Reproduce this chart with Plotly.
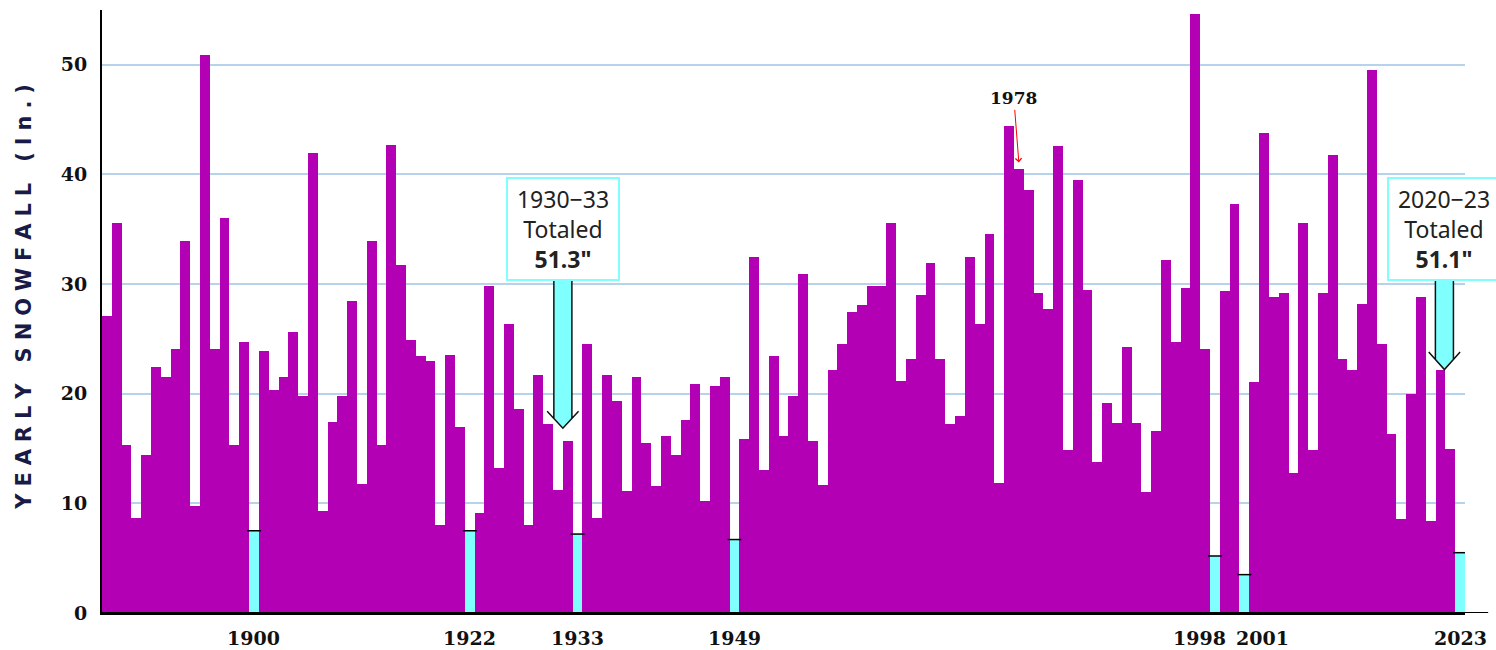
import plotly.graph_objects as go

# ---------------- data ----------------
YEARS = list(range(1885, 2024))
SNOWFALL = [
    27.1, 35.6, 15.3, 8.7, 14.4, 22.4, 21.5, 24.1, 33.9, 9.8,          # 1885-1894
    50.9, 24.1, 36.0, 15.3, 24.7, 7.5, 23.9, 20.3, 21.5, 25.6,         # 1895-1904
    19.8, 42.0, 9.3, 17.4, 19.8, 28.5, 11.8, 33.9, 15.3, 42.7,         # 1905-1914
    31.7, 24.9, 23.4, 23.0, 8.0, 23.5, 17.0, 7.5, 9.1, 29.8,           # 1915-1924
    13.2, 26.4, 18.6, 8.0, 21.7, 17.2, 11.2, 15.7, 7.2, 24.5,          # 1925-1934
    8.7, 21.7, 19.3, 11.1, 21.5, 15.5, 11.6, 16.1, 14.4, 17.6,         # 1935-1944
    20.9, 10.2, 20.7, 21.5, 6.7, 15.9, 32.5, 13.0, 23.4, 16.1,         # 1945-1954
    19.8, 30.9, 15.7, 11.7, 22.2, 24.5, 27.5, 28.1, 29.8, 29.8,        # 1955-1964
    35.6, 21.2, 23.2, 29.0, 31.9, 23.2, 17.2, 18.0, 32.5, 26.4,        # 1965-1974
    34.6, 11.9, 44.4, 40.5, 38.6, 29.2, 27.7, 42.6, 14.9, 39.5,        # 1975-1984
    29.5, 13.8, 19.2, 17.3, 24.3, 17.3, 11.0, 16.6, 32.2, 24.7,        # 1985-1994
    29.6, 54.6, 24.1, 5.2, 29.4, 37.3, 3.5, 21.1, 43.8, 28.8,          # 1995-2004
    29.2, 12.8, 35.6, 14.9, 29.2, 41.8, 23.2, 22.2, 28.2, 49.5,        # 2005-2014
    24.5, 16.3, 8.6, 20.0, 28.8, 8.4, 22.2, 15.0, 5.5,                 # 2015-2023
]
LOW_YEARS = [1900, 1922, 1933, 1949, 1998, 2001, 2023]
X_TICK_YEARS = LOW_YEARS
X_TICK_NUDGE = {1998: -15, 2001: 18}   # label offsets (px) so adjacent labels don't collide
Y_TICKS = [0, 10, 20, 30, 40, 50]
Y_TITLE = "YEARLY SNOWFALL (In.)"
HIGHLIGHT_YEAR = 1978
PERIODS = [(1930, 1933), (2020, 2023)]

# ---------------- styles ----------------
MAGENTA = "#B400B4"
CYAN = "#80FFFF"
GRID = "#B7D3EC"
TICK_FONT = dict(family="DejaVu Serif", size=19, color="#111111", weight="bold")
BOX_FONT = dict(family="Noto Sans", size=23, color="#222222")

value_of = dict(zip(YEARS, SNOWFALL))
colors = [CYAN if y in LOW_YEARS else MAGENTA for y in YEARS]

fig = go.Figure()
fig.add_trace(go.Bar(
    x=YEARS, y=SNOWFALL, width=1.0,
    marker=dict(color=colors, line=dict(width=0)),
    hoverinfo="x+y", showlegend=False,
))
# black caps on top of the low-year (cyan) bars
fig.add_trace(go.Scatter(
    x=LOW_YEARS, y=[value_of[y] for y in LOW_YEARS], mode="markers",
    marker=dict(symbol="line-ew", size=10, line=dict(color="black", width=1.5)),
    hoverinfo="skip", showlegend=False,
))

# ---------------- period annotations with block arrows ----------------
ARROWS = [
    # center year, top value, head value, tip value
    dict(cx=1931.5, top=30.3, head=18.4, tip=16.85),
    dict(cx=2021.4, top=30.3, head=23.8, tip=22.2),
]
SHAFT_HW = 0.92
HEAD_HW = 1.6
for (y0, y1), a in zip(PERIODS, ARROWS):
    total = round(sum(value_of[y] for y in range(y0, y1 + 1)), 1)
    label = f"{y0}\u2212{str(y1)[-2:]}<br>Totaled<br><b>{total}\"</b>"
    cx, top, head, tip = a["cx"], a["top"], a["head"], a["tip"]
    yi = tip + (head - tip) * (SHAFT_HW / HEAD_HW)
    fill_path = (f"M {cx-SHAFT_HW},{top} L {cx-SHAFT_HW},{yi} L {cx},{tip} "
                 f"L {cx+SHAFT_HW},{yi} L {cx+SHAFT_HW},{top} Z")
    fig.add_shape(type="path", path=fill_path, xref="x", yref="y",
                  fillcolor=CYAN, line=dict(width=0), layer="above")
    line_path = (f"M {cx-SHAFT_HW},{top} L {cx-SHAFT_HW},{yi} "
                 f"M {cx+SHAFT_HW},{top} L {cx+SHAFT_HW},{yi} "
                 f"M {cx-HEAD_HW},{head} L {cx},{tip} L {cx+HEAD_HW},{head}")
    fig.add_shape(type="path", path=line_path, xref="x", yref="y",
                  fillcolor="rgba(0,0,0,0)", line=dict(color="#111111", width=1.5),
                  layer="above")
    fig.add_annotation(
        x=cx, y=top, xref="x", yref="y", xanchor="center", yanchor="bottom",
        text=label, showarrow=False, font=BOX_FONT, align="center",
        bgcolor="white", bordercolor=CYAN, borderwidth=2, borderpad=2,
        width=106, height=96,
    )

# 1978 marker
fig.add_annotation(
    x=HIGHLIGHT_YEAR, y=value_of[HIGHLIGHT_YEAR] + 0.6, xref="x", yref="y",
    text=f"<b>{HIGHLIGHT_YEAR}</b>", showarrow=True, ax=-5, ay=-64,
    arrowcolor="red", arrowwidth=1, arrowhead=4, arrowsize=1.2,
    font=dict(family="DejaVu Serif", size=17, color="#111111"),
)

# x tick labels (as annotations so that neighbouring labels can be nudged apart)
for yr in X_TICK_YEARS:
    fig.add_annotation(
        x=yr, y=0, xref="x", yref="paper", yanchor="middle", xanchor="center",
        yshift=-25, xshift=X_TICK_NUDGE.get(yr, 0), text=str(yr),
        showarrow=False, font=TICK_FONT,
    )

# y-axis title with letter spacing
spaced_title = "\u2004".join(Y_TITLE)
fig.add_annotation(
    x=-0.057, y=0.525, xref="paper", yref="paper", textangle=-90,
    text=f"<b>{spaced_title}</b>", showarrow=False, xanchor="center", yanchor="middle",
    font=dict(family="DejaVu Sans", size=21, color="#1A1A46"),
)

# baseline extension to the right of the bars
fig.add_shape(type="line", xref="paper", yref="y", x0=0, x1=1.017, y0=0, y1=0,
              line=dict(color="black", width=2))

fig.update_layout(
    width=1496, height=650,
    margin=dict(l=102, r=31, t=10, b=37),
    paper_bgcolor="white", plot_bgcolor="white",
    bargap=0, showlegend=False,
    xaxis=dict(
        range=[YEARS[0] - 0.5, YEARS[-1] + 0.5], showticklabels=False,
        showgrid=False, zeroline=False,
        showline=True, linecolor="black", linewidth=2, ticks="",
        automargin=False, fixedrange=True,
    ),
    yaxis=dict(
        range=[0, 55], tickmode="array", tickvals=Y_TICKS,
        ticktext=[str(v) for v in Y_TICKS], tickfont=TICK_FONT,
        showgrid=True, gridcolor=GRID, gridwidth=1.5, zeroline=False,
        showline=True, linecolor="black", linewidth=2, ticks="",
        ticklabelstandoff=9, automargin=False, fixedrange=True,
    ),
)

fig.write_html(
    "out.html",
    config={"displayModeBar": False},
    post_script="document.body.style.margin='0px';document.body.style.overflow='hidden';",
)
